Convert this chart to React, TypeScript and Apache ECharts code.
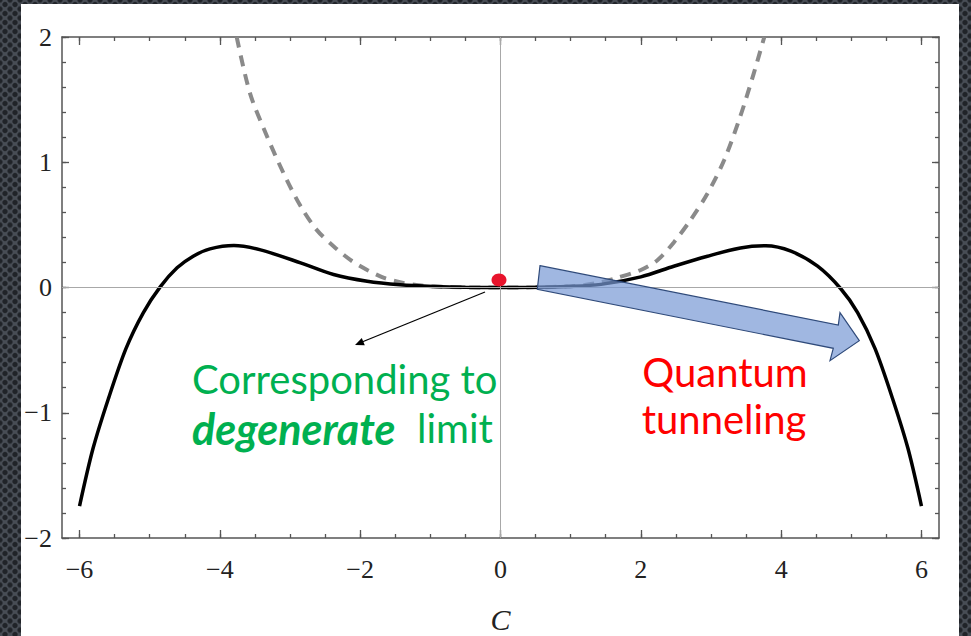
import React, { useEffect, useRef } from "react";
import * as echarts from "echarts";

// Solid curve (black)
const solidC = [-6, -5.81, -5.59, -5.34, -5.09, -4.85, -4.61, -4.38, -4.14, -3.8, -3.42, -2.85, -2.38, -1.9, -1.43, -0.96, -0.5, 0, 0.5, 0.96, 1.43, 2.0, 2.47, 2.95, 3.42, 3.78, 4.14, 4.52, 4.85, 5.09, 5.34, 5.59, 5.81, 6];
const solidV = [-1.745, -1.29, -0.89, -0.49, -0.2, 0.005, 0.157, 0.25, 0.308, 0.335, 0.3, 0.197, 0.104, 0.05, 0.022, 0.008, 0.001, 0, 0.001, 0.008, 0.025, 0.085, 0.17, 0.25, 0.316, 0.333, 0.29, 0.17, -0.01, -0.2, -0.49, -0.89, -1.29, -1.745];

// Dashed curve (grey)
const dashC = [-3.76, -3.57, -3.33, -3.09, -2.85, -2.62, -2.38, -2.14, -1.9, -1.66, -1.43, -1.2, -0.96, -0.5, 0, 0.5, 0.96, 1.2, 1.43, 1.66, 2.0, 2.24, 2.47, 2.71, 2.95, 3.19, 3.42, 3.61, 3.76];
const dashV = [2.0, 1.55, 1.21, 0.91, 0.65, 0.46, 0.33, 0.22, 0.14, 0.077, 0.042, 0.02, 0.009, 0.001, 0, 0.001, 0.009, 0.02, 0.042, 0.077, 0.14, 0.22, 0.36, 0.54, 0.75, 1.02, 1.37, 1.71, 2.0];

// Axis ticks
const xMajor = [-6, -4, -2, 0, 2, 4, 6];
const xMinor = [-6, -5.5, -5, -4.5, -4, -3.5, -3, -2.5, -2, -1.5, -1, -0.5, 0, 0.5, 1, 1.5, 2, 2.5, 3, 3.5, 4, 4.5, 5, 5.5, 6];
const yMajor = [-2, -1, 0, 1, 2];
const yMinor = [-2, -1.8, -1.6, -1.4, -1.2, -1, -0.8, -0.6, -0.4, -0.2, 0, 0.2, 0.4, 0.6, 0.8, 1, 1.2, 1.4, 1.6, 1.8, 2];

const xRange = [-6.25, 6.25];
const yRange = [-2, 2];

const fmt = (v: number) => (v < 0 ? "\u2212" + Math.abs(v) : String(v));

export default function App() {
  const ref = useRef<HTMLDivElement>(null);
  useEffect(() => {
    if (!ref.current) return;
    const chart = echarts.init(ref.current, null, { renderer: "svg" });
    const axisColor = "#555";
    const lbl = { fontFamily: "Liberation Serif", fontSize: 26, color: "#222" };
    const mkX = (pos: string, major: boolean, labels: boolean) => ({
      type: "value",
      position: pos,
      min: xRange[0],
      max: xRange[1],
      axisLine: { show: major, onZero: false, lineStyle: { color: axisColor, width: 1.5 } },
      axisTick: {
        show: true,
        inside: true,
        length: major ? 8 : 4,
        customValues: major ? xMajor : xMinor,
        lineStyle: { color: axisColor, width: 1.3 },
      },
      axisLabel: labels
        ? { show: true, customValues: xMajor, formatter: fmt, margin: 18, ...lbl }
        : { show: false },
      splitLine: { show: false },
      ...(labels
        ? {
            name: "C",
            nameLocation: "middle",
            nameGap: 66,
            nameTextStyle: { fontFamily: "Liberation Serif", fontStyle: "italic", fontSize: 30, color: "#222" },
          }
        : {}),
    });
    const mkY = (pos: string, major: boolean, labels: boolean) => ({
      type: "value",
      position: pos,
      min: yRange[0],
      max: yRange[1],
      axisLine: { show: major, onZero: false, lineStyle: { color: axisColor, width: 1.5 } },
      axisTick: {
        show: true,
        inside: true,
        length: major ? 7 : 4,
        customValues: major ? yMajor : yMinor,
        lineStyle: { color: axisColor, width: 1.3 },
      },
      axisLabel: labels
        ? { show: true, customValues: yMajor, formatter: fmt, margin: 10, padding: [10, 0, 0, 0], ...lbl }
        : { show: false },
      splitLine: { show: false },
    });

    const solid = solidC.map((c, i) => [c, solidV[i]]);
    const dashed = dashC.map((c, i) => [c, dashV[i]]);

    chart.setOption({
      animation: false,
      backgroundColor: "transparent",
      grid: { left: 62, top: 37, right: 32, bottom: 98, containLabel: false, outerBoundsMode: "none" },
      xAxis: [mkX("bottom", true, true), mkX("bottom", false, false), mkX("top", true, false), mkX("top", false, false)],
      yAxis: [mkY("left", true, true), mkY("left", false, false), mkY("right", true, false), mkY("right", false, false)],
      series: [
        {
          type: "line",
          data: dashed,
          showSymbol: false,
          smooth: 0.3,
          z: 2,
          lineStyle: { color: "#8a8a8a", width: 4, type: [11, 8] },
          markLine: {
            silent: true,
            symbol: "none",
            label: { show: false },
            lineStyle: { color: "#a8a8a8", width: 1, type: "solid" },
            data: [{ xAxis: 0 }, { yAxis: 0 }],
          },
        },
        {
          type: "line",
          data: solid,
          showSymbol: false,
          smooth: 0.3,
          z: 3,
          lineStyle: { color: "#000", width: 3.5 },
        },
      ],
      graphic: [
        {
          type: "ellipse",
          z: 20,
          shape: { cx: 499, cy: 280, rx: 7.5, ry: 6.5 },
          style: { fill: "#e8142c" },
        },
        {
          type: "line",
          z: 20,
          shape: { x1: 485, y1: 292, x2: 362, y2: 342 },
          style: { stroke: "#000", lineWidth: 1.3 },
        },
        {
          type: "polygon",
          z: 20,
          shape: { points: [[355, 345], [364.8, 345.3], [361.8, 337.9]] },
          style: { fill: "#000" },
        },
        {
          type: "polygon",
          z: 20,
          shape: {
            points: [
              [540, 265.7],
              [838.3, 325],
              [840, 312.7],
              [859.3, 340.7],
              [830, 360.7],
              [833.3, 348.3],
              [537.3, 289.3],
            ],
          },
          style: { fill: "rgba(120,152,212,0.7)", stroke: "#2f4a7a", lineWidth: 1.2 },
        },
        {
          type: "text",
          z: 20,
          x: 192,
          y: 379,
          style: {
            text: "Corresponding to",
            fontFamily: "Lato",
            fontSize: 40,
            fill: "#00b050",
            verticalAlign: "middle",
            align: "left",
          },
        },
        {
          type: "text",
          z: 20,
          x: 192,
          y: 428,
          style: {
            text: "degenerate",
            fontFamily: "Lato",
            fontSize: 43,
            fontWeight: "bold",
            fontStyle: "italic",
            fill: "#00b050",
            verticalAlign: "middle",
            align: "left",
          },
        },
        {
          type: "text",
          z: 20,
          x: 417,
          y: 428,
          style: {
            text: "limit",
            fontFamily: "Lato",
            fontSize: 40,
            fill: "#00b050",
            verticalAlign: "middle",
            align: "left",
          },
        },
        {
          type: "text",
          z: 20,
          x: 725,
          y: 372,
          style: {
            text: "Quantum",
            fontFamily: "Lato",
            fontSize: 40,
            fill: "#ff0000",
            verticalAlign: "middle",
            align: "center",
          },
        },
        {
          type: "text",
          z: 20,
          x: 724,
          y: 419,
          style: {
            text: "tunneling",
            fontFamily: "Lato",
            fontSize: 40,
            fill: "#ff0000",
            verticalAlign: "middle",
            align: "center",
          },
        },
      ],
    });
    return () => chart.dispose();
  }, []);

  return (
    <div
      style={{
        position: "fixed",
        left: 0,
        top: 0,
        width: 971,
        height: 636,
        backgroundColor: "#484d55",
        backgroundImage:
          "radial-gradient(circle, #202328 0, #202328 2px, transparent 3.2px), radial-gradient(circle, #202328 0, #202328 2px, transparent 3.2px)",
        backgroundSize: "10px 9px",
        backgroundPosition: "0 0, 5px 4.5px",
        overflow: "hidden",
      }}
    >
      <div style={{ position: "absolute", left: 21, top: 4, width: 938, height: 632, background: "#fff" }} />
      <div ref={ref} style={{ position: "absolute", left: 0, top: 0, width: 971, height: 636 }} />
    </div>
  );
}
